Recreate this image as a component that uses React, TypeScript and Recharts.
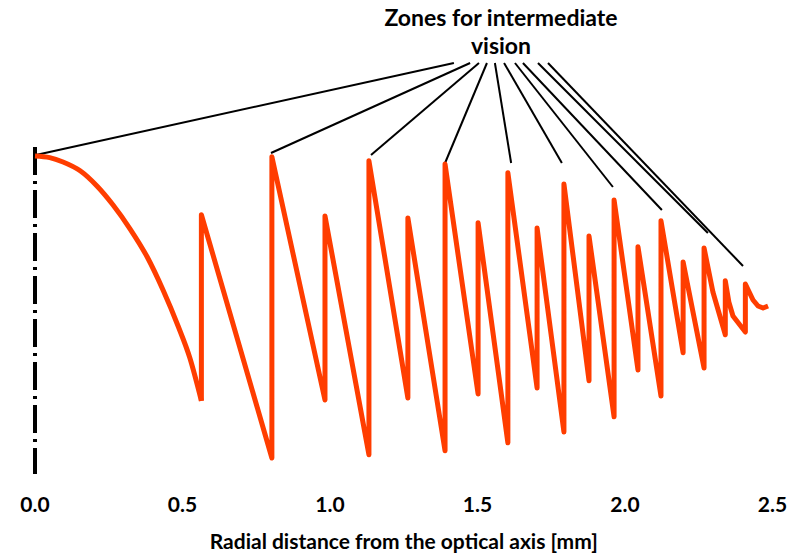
import { LineChart, Line, XAxis, YAxis, ReferenceLine } from "recharts";

// central zone: smooth profile from the optical axis to the first step
const centerRadius = [0, 0.05, 0.095, 0.153, 0.21, 0.264, 0.322, 0.38, 0.434, 0.485, 0.525, 0.564];
const centerProfile = [78.5, 78.1, 77, 74.8, 71, 66.3, 60.3, 53.3, 45, 36, 28, 17.3];

// outer diffractive zones: radial position [mm] and profile height (arbitrary units)
const zoneRadius = [
  0.564, 0.564, 0.803, 0.803, 0.983, 0.983, 1.132, 1.132, 1.264, 1.264, 1.39, 1.39,
  1.502, 1.502, 1.603, 1.603, 1.702, 1.702, 1.793, 1.793, 1.878, 1.878,
  1.963, 1.963, 2.044, 2.044, 2.122, 2.122, 2.197, 2.197, 2.268, 2.268,
  2.298, 2.34, 2.34, 2.352, 2.366, 2.408, 2.408, 2.434, 2.451, 2.468, 2.485,
];
const zoneProfile = [
  17.3, 63.8, 3, 78.3, 17.5, 63.5, 3.8, 77.3, 18, 63, 4.8, 76.5,
  19, 61.8, 6.8, 74.3, 20.5, 60.5, 9.5, 71.5, 22.3, 58.5,
  13.3, 67.5, 25, 55.8, 18.5, 62.3, 29.3, 52, 25.5, 55.5,
  44.5, 33.8, 47.3, 42, 38.5, 34.5, 46.5, 42.5, 41, 40.5, 41,
];

// "Zones for intermediate vision" pointer lines: start under the title, end at the zone peaks
const pointerTopX = [1.42, 1.475, 1.505, 1.532, 1.559, 1.59, 1.627, 1.654, 1.705, 1.739];
const pointerTopY = 101.75;
const pointerEndX = [0.003, 0.8, 1.139, 1.39, 1.614, 1.786, 1.959, 2.125, 2.281, 2.4];
const pointerEndY = [78.75, 79.25, 78.75, 76.75, 76.75, 76.75, 70.75, 65, 59.25, 51];

const xTicks = [0, 0.5, 1.0, 1.5, 2.0, 2.5];

const centerData = centerRadius.map((r, i) => ({ r, h: centerProfile[i] }));
const zoneData = zoneRadius.map((r, i) => ({ r, h: zoneProfile[i] }));

const FONT = "Lato, 'Open Sans', sans-serif";
const ORANGE = "#ff3d00";

const renderTick = (props: any) => (
  <text
    x={props.x}
    y={props.y}
    dy={42}
    textAnchor="middle"
    fontFamily={FONT}
    fontWeight={700}
    fontSize={21}
    fill="#000"
  >
    {Number(props.payload.value).toFixed(1)}
  </text>
);

export default function App() {
  return (
    <div style={{ position: "absolute", left: 0, top: 0, width: 795, height: 556, background: "#fff" }}>
      <div
        style={{
          position: "absolute",
          left: 351,
          top: 3,
          width: 300,
          textAlign: "center",
          fontFamily: FONT,
          fontWeight: 700,
          fontSize: 23,
          lineHeight: "28px",
          color: "#000",
        }}
      >
        Zones for intermediate
        <br />
        vision
      </div>
      <LineChart
        width={795}
        height={556}
        margin={{ top: 70, right: 22.5, bottom: 0, left: 35 }}
      >
        <XAxis
          dataKey="r"
          type="number"
          domain={[0, 2.5]}
          ticks={xTicks}
          axisLine={false}
          tickLine={false}
          tickSize={0}
          tickMargin={0}
          height={86}
          tick={renderTick}
          allowDuplicatedCategory={false}
          label={{
            value: "Radial distance from the optical axis [mm]",
            position: "insideBottom",
            offset: 7,
            style: { fontFamily: FONT, fontWeight: 700, fontSize: 21, fill: "#000" },
          }}
        />
        <YAxis type="number" domain={[0, 100]} hide />
        <ReferenceLine
          segment={[{ x: 0, y: 80.75 }, { x: 0, y: -1 }]}
          stroke="#000"
          strokeWidth={4}
          strokeDasharray="28 6 3 6"
          ifOverflow="visible"
        />
        {pointerTopX.map((tx, i) => (
          <ReferenceLine
            key={i}
            segment={[{ x: tx, y: pointerTopY }, { x: pointerEndX[i], y: pointerEndY[i] }]}
            stroke="#000"
            strokeWidth={2}
            ifOverflow="visible"
          />
        ))}
        <Line
          data={centerData}
          dataKey="h"
          type="monotone"
          stroke={ORANGE}
          strokeWidth={5}
          strokeLinejoin="round"
          dot={false}
          isAnimationActive={false}
        />
        <Line
          data={zoneData}
          dataKey="h"
          type="linear"
          stroke={ORANGE}
          strokeWidth={5}
          strokeLinejoin="round"
          dot={false}
          isAnimationActive={false}
        />
      </LineChart>
    </div>
  );
}
